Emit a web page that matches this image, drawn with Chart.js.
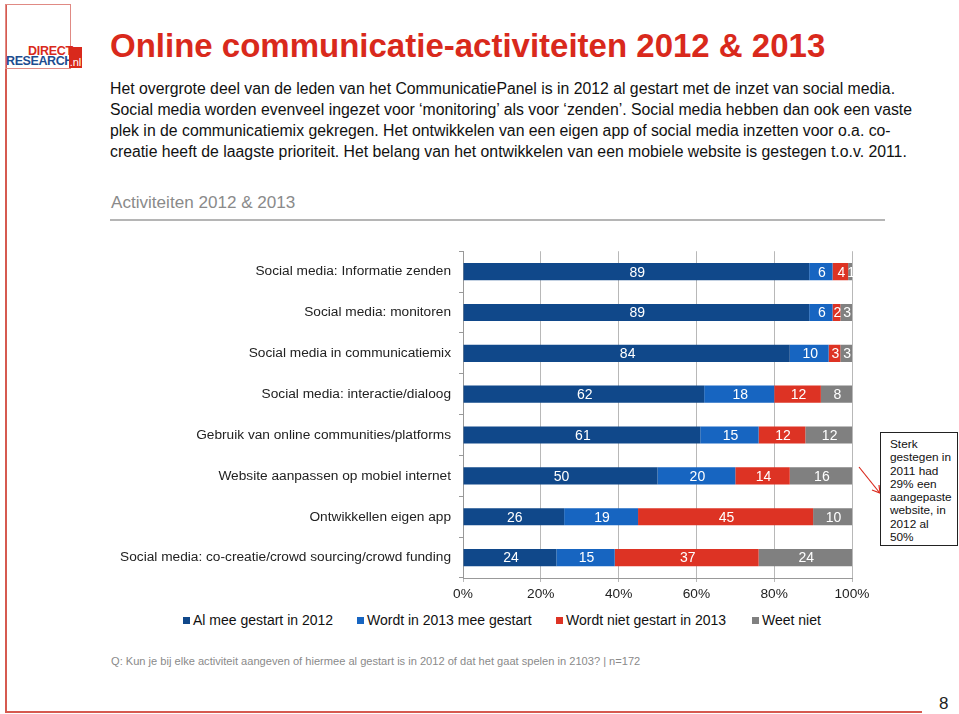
<!DOCTYPE html>
<html>
<head>
<meta charset="utf-8">
<script src="https://cdn.jsdelivr.net/npm/chart.js@4/dist/chart.umd.min.js"></script>
<style>
  body { margin: 0; width: 959px; height: 714px; position: relative; background: #fff; font-family: "Liberation Sans", Arial, sans-serif; overflow: hidden; }
  .abs { position: absolute; }
  #title { left: 110px; top: 27px; font-size: 33px; font-weight: bold; color: #d9291c; white-space: nowrap; }
  #intro { left: 110px; top: 78px; font-size: 15.8px; line-height: 21px; color: #111; white-space: nowrap; }
  #sub { left: 111px; top: 193px; font-size: 17.1px; color: #8a8a8a; }
  #subline { left: 110px; top: 219px; width: 775px; height: 2px; background: #b5b5b5; }
  #footer { left: 111px; top: 655px; font-size: 11.1px; color: #8a8a8a; white-space: nowrap; }
  #page { left: 939px; top: 694px; font-size: 17px; color: #222; }
  #frameL { left: 5px; top: 4px; width: 2px; height: 709px; background: #d65a50; }
  #frameB { left: 5px; top: 711px; width: 917px; height: 2px; background: #d65a50; }
  #logo { left: 5px; top: 4px; width: 64px; height: 63px; border: 1px solid #e08a84; }
  #note { left: 880px; top: 432px; width: 67px; height: 107px; border: 1px solid #222; padding: 5px 0 0 9px; font-size: 11.8px; line-height: 13.3px; color: #111; background: #fff; }
  #chartBox { left: 90px; top: 235px; width: 790px; height: 370px; }
  #legend { left: 183px; top: 612px; font-size: 14px; color: #111; white-space: nowrap; }
  .item { position: absolute; top: 0; }
  .sw { display: inline-block; width: 7px; height: 7px; margin-right: 3px; vertical-align: 1px; }
</style>
</head>
<body>
<div class="abs" id="frameL"></div>
<div class="abs" id="frameB"></div>
<div class="abs" id="logo"></div>
<div class="abs" style="left:28px;top:44px;font-size:12.5px;font-weight:bold;color:#d9291c;letter-spacing:-0.3px;">DIRECT</div>
<div class="abs" style="left:6px;top:54px;font-size:12.5px;font-weight:bold;color:#1d4d8f;letter-spacing:-0.4px;">RESEARCH</div>
<div class="abs" style="left:69px;top:47px;width:13px;height:21px;background:#d9291c;color:#fff;font-size:11px;line-height:30px;text-align:center;">.nl</div>

<div class="abs" id="title">Online communicatie-activiteiten 2012 &amp; 2013</div>
<div class="abs" id="intro">Het overgrote deel van de leden van het CommunicatiePanel is in 2012 al gestart met de inzet van social media.<br>Social media worden evenveel ingezet voor ‘monitoring’ als voor ‘zenden’. Social media hebben dan ook een vaste<br>plek in de communicatiemix gekregen. Het ontwikkelen van een eigen app of social media inzetten voor o.a. co-<br>creatie heeft de laagste prioriteit. Het belang van het ontwikkelen van een mobiele website is gestegen t.o.v. 2011.</div>
<div class="abs" id="sub">Activiteiten 2012 &amp; 2013</div>
<div class="abs" id="subline"></div>

<div class="abs" id="chartBox"><canvas id="myChart"></canvas></div>
<div class="abs" id="legend"></div>

<svg class="abs" style="left:850px;top:460px" width="40" height="40">
  <line x1="9" y1="7" x2="29" y2="32" stroke="#d9291c" stroke-width="1.2"/>
  <polyline points="22,30 30,33 29,25" fill="none" stroke="#d9291c" stroke-width="1.2"/>
</svg>
<div class="abs" id="note">Sterk<br>gestegen in<br>2011 had<br>29% een<br>aangepaste<br>website, in<br>2012 al<br>50%</div>

<div class="abs" id="footer">Q: Kun je bij elke activiteit aangeven of hiermee al gestart is in 2012 of dat het gaat spelen in 2103? | n=172</div>
<div class="abs" id="page">8</div>

<script>
const activities = [
    'Social media: Informatie zenden',
    'Social media: monitoren',
    'Social media in communicatiemix',
    'Social media: interactie/dialoog',
    'Gebruik van online communities/platforms',
    'Website aanpassen op mobiel internet',
    'Ontwikkellen eigen app',
    'Social media: co-creatie/crowd sourcing/crowd funding'
];
const seriesNames = ['Al mee gestart in 2012', 'Wordt in 2013 mee gestart', 'Wordt niet gestart in 2013', 'Weet niet'];
const started2012 = [89, 89, 84, 62, 61, 50, 26, 24];
const start2013 = [6, 6, 10, 18, 15, 20, 19, 15];
const notStarted = [4, 2, 3, 12, 12, 14, 45, 37];
const dontKnow = [1, 3, 3, 8, 12, 16, 10, 24];
const xTicks = [0, 20, 40, 60, 80, 100];

const colors = ['#10488a', '#1765c1', '#dd3324', '#808080'];
const fontFam = '"Liberation Sans", Arial, sans-serif';

// white numbers in the middle of each segment
const segmentLabels = {
    id: 'segmentLabels',
    afterDatasetsDraw(chart) {
        const c = chart.ctx;
        c.save();
        c.fillStyle = '#fff';
        c.font = '14px ' + fontFam;
        c.textAlign = 'center';
        c.textBaseline = 'middle';
        chart.data.datasets.forEach((ds, i) => {
            chart.getDatasetMeta(i).data.forEach((bar, j) => {
                const p = bar.getProps(['x', 'y', 'base'], true);
                c.fillText(ds.data[j], (p.x + p.base) / 2 + 1, p.y + 1);
            });
        });
        c.restore();
    }
};

var ctx = document.getElementById('myChart').getContext('2d');
var myChart = new Chart(ctx, {
    type: 'bar',
    data: {
        labels: activities,
        datasets: [started2012, start2013, notStarted, dontKnow].map((d, i) => ({
            label: seriesNames[i],
            data: d,
            backgroundColor: colors[i]
        }))
    },
    options: {
        indexAxis: 'y',
        responsive: true,
        maintainAspectRatio: false,
        animation: false,
        layout: { padding: { top: 8, right: 28, left: 0, bottom: 0 } },
        datasets: { bar: { categoryPercentage: 1, barPercentage: 0.42 } },
        scales: {
            x: {
                stacked: true,
                min: 0,
                max: 100,
                afterBuildTicks: (s) => { s.ticks = xTicks.map(v => ({ value: v })); },
                afterFit: (s) => { s.height = 27; },
                grid: { color: '#b8b8b8', tickLength: 4 },
                border: { color: '#999' },
                ticks: { color: '#222', padding: 4, font: { size: 13.7, family: fontFam }, callback: (v) => v + '%' }
            },
            y: {
                stacked: true,
                afterFit: (s) => { s.width = 373; },
                grid: { drawOnChartArea: false, color: '#999', tickLength: 4 },
                border: { color: '#999' },
                ticks: { color: '#222', padding: 8, font: { size: 13.7, family: fontFam } }
            }
        },
        plugins: {
            tooltip: { enabled: false },
            legend: { display: false }
        }
    },
    plugins: [segmentLabels]
});

// legend row under the chart
const legendX = [0, 174, 373, 569];
const legendEl = document.getElementById('legend');
seriesNames.forEach((name, i) => {
    const it = document.createElement('div');
    it.className = 'item';
    it.style.left = legendX[i] + 'px';
    it.innerHTML = '<span class="sw" style="background:' + colors[i] + '"></span>' + name;
    legendEl.appendChild(it);
});
</script>
</body>
</html>
